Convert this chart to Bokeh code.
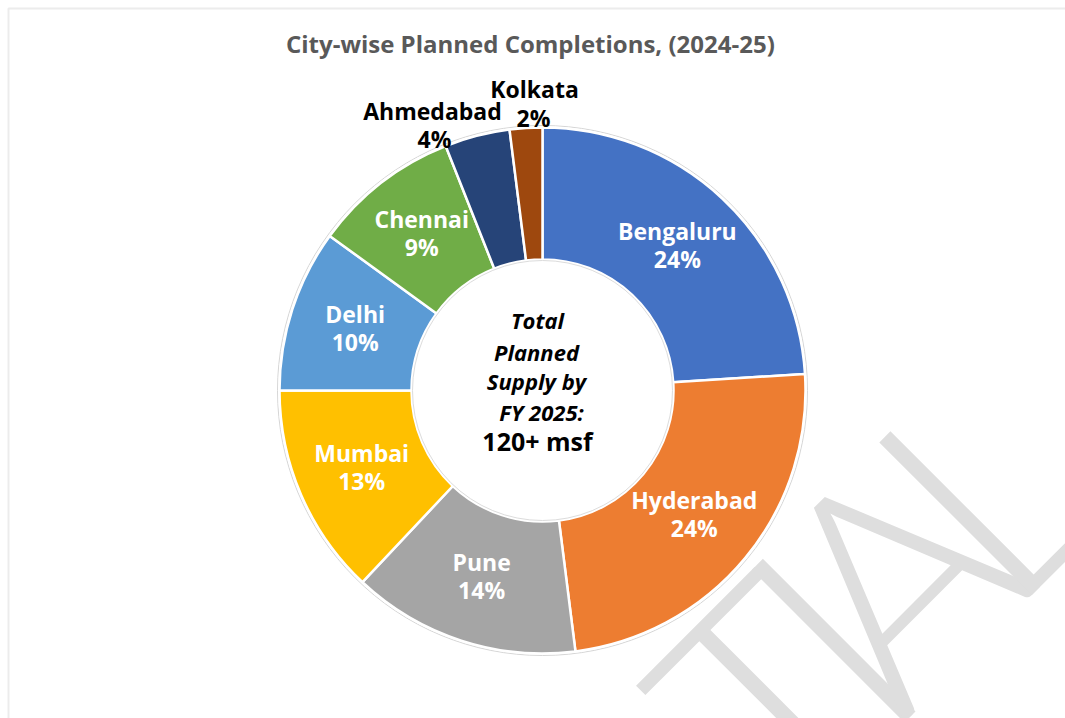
import math
from bokeh.plotting import figure
from bokeh.models import Range1d, ColumnDataSource
from bokeh.core.properties import value
from bokeh.embed import file_html
from bokeh.resources import INLINE

# ---------------- data ----------------
cities = ["Bengaluru", "Hyderabad", "Pune", "Mumbai", "Delhi", "Chennai", "Ahmedabad", "Kolkata"]
shares = [24, 24, 14, 13, 10, 9, 4, 2]
colors = ["#4472C4", "#ED7D31", "#A5A5A5", "#FFC000", "#5B9BD5", "#70AD47", "#264478", "#9E480E"]
title_text = "City-wise Planned Completions,  (2024-25)"
center_lines = ["Total", "Planned", "Supply by", "FY 2025:"]
center_total = "120+ msf"
watermark_letters = ["T", "I", "A", "L"]

# ---------------- layout ----------------
W, H = 1065, 718
FONT = "Open Sans"
K = 0.42  # baseline compensation (fraction of font size)


def Y(y_screen):
    # page pixel y -> data y (data units are pixels, y up)
    return H - y_screen


CX, CY = 542, Y(390)
R_OUT, R_IN, R_LAB = 263, 131, 197

p = figure(width=W, height=H, x_range=Range1d(0, W), y_range=Range1d(0, H),
           output_backend="svg", toolbar_location=None,
           x_axis_type=None, y_axis_type=None, min_border=0,
           background_fill_color="white", border_fill_color="white",
           outline_line_color=None)
p.grid.visible = False


def txt(xs, ys_base_screen, texts, size, color, style="bold", font=FONT, angle=0.0):
    ys = [Y(y) + K * size for y in ys_base_screen]
    p.text(x=xs, y=ys, text=texts, angle=angle, text_font=value(font),
           text_font_style=style, text_font_size=f"{size}px", text_color=color,
           text_align="center", text_baseline="alphabetic")


# chart-area frame (light grey, left/top visible)
p.quad(left=[8], right=[W + 20], top=[Y(8)], bottom=[-20], fill_color=None,
       line_color="#ececec", line_width=2)

# watermark (behind), rotated 45 degrees
WM = 305
wm_x = [764, 826, 888, 980]
wm_ys = [695, 633, 571, 479]
p.text(x=wm_x, y=[Y(v) for v in wm_ys], text=watermark_letters, angle=math.pi / 4,
       text_font=value("Lato Light, Lato"), text_font_size=f"{WM}px", text_color="#dedede",
       text_align="center", text_baseline="alphabetic")

# wedges
total = float(sum(shares))
starts, ends, mids = [], [], []
cum = 0.0
for v in shares:
    a0 = math.pi / 2 - 2 * math.pi * cum / total
    cum += v
    a1 = math.pi / 2 - 2 * math.pi * cum / total
    starts.append(a0)
    ends.append(a1)
    mids.append((a0 + a1) / 2)

src = ColumnDataSource(dict(start=starts, end=ends, color=colors))
p.circle(x=[CX], y=[CY], radius=R_OUT + 2, fill_color=None, line_color="#d6d6d6", line_width=1)
p.annular_wedge(x=CX, y=CY, inner_radius=R_IN, outer_radius=R_OUT,
                start_angle="start", end_angle="end", direction="clock",
                fill_color="color", line_color="white", line_width=2.5, source=src)
p.circle(x=[CX], y=[CY], radius=R_IN - 1, fill_color=None, line_color="#dcdcdc", line_width=1)

# inside labels (white)
in_names, in_pcts, in_x, in_yn, in_yp = [], [], [], [], []
for i in range(6):
    lx = CX + R_LAB * math.cos(mids[i])
    ly_screen = H - (CY + R_LAB * math.sin(mids[i]))
    in_names.append(cities[i])
    in_pcts.append(f"{shares[i]}%")
    in_x.append(lx)
    in_yn.append(ly_screen - 6)
    in_yp.append(ly_screen + 22)
LS = 23
txt(in_x, in_yn, in_names, LS, "white")
txt(in_x, in_yp, in_pcts, LS, "white")

# outside labels (black)
txt([432, 534], [120, 98], [cities[6], cities[7]], LS, "black")
txt([434, 533], [148, 127], [f"{shares[6]}%", f"{shares[7]}%"], LS, "black")

# centre text
txt([537, 536, 536, 541], [329, 361, 390, 421], center_lines, 22, "black", style="bold italic")
txt([537], [451], [center_total], 25, "black")

# title
txt([533], [53], [title_text], 24, "#595959")

open("out.html", "w").write(file_html(p, INLINE))
